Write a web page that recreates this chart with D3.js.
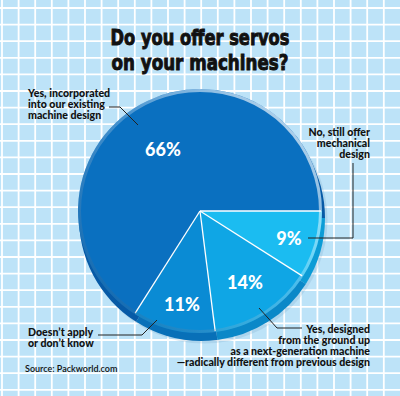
<!DOCTYPE html>
<html>
<head>
<meta charset="utf-8">
<script src="https://cdn.jsdelivr.net/npm/d3@7"></script>
<style>
  html, body { margin: 0; padding: 0; background: #bde3f8; }
  svg { display: block; }
  .lbl { font-family: Lato, "Noto Sans", sans-serif; font-weight: 900; font-size: 10.6px; fill: #111; }
  .pct { font-family: Lato, "Noto Sans", sans-serif; font-weight: 900; font-size: 18px; fill: #fff; }
</style>
</head>
<body>
<svg id="chart" width="400" height="396"></svg>
<script>
// survey answers, in clockwise order starting at 3 o'clock
var answers = ["No, still offer mechanical design",
               "Yes, designed from the ground up",
               "Doesn't apply or don't know",
               "Yes, incorporated into our existing machine design"];
var shares = [9, 14, 11, 66];
var faceColors = ["#1bbcf1", "#0fa6e5", "#0a8bd4", "#0a70c0"];
var rimColors  = ["#0c9cd6", "#0a88c8", "#0870b8", "#075aa6"];

var titleLines = ["Do you offer servos", "on your machines?"];
var labelLines = [
  ["No, still offer", "mechanical", "design"],
  ["Yes, designed", "from the ground up", "as a next-generation machine", "\u2014radically different from previous design"],
  ["Doesn\u2019t apply", "or don\u2019t know"],
  ["Yes, incorporated", "into our existing", "machine design"]
];
var sourceText = "Source: Packworld.com";

var W = 400, H = 396;
var cx = 200, cy = 211, R = 122;
var svg = d3.select('#chart');

// grid background
var gridStep = 16.6;
var gx = svg.append('g').attr('class', 'grid');
gx.selectAll('line.v').data(d3.range(2, W, gridStep)).enter().append('line')
  .attr('x1', function (d) { return d; }).attr('x2', function (d) { return d; })
  .attr('y1', 0).attr('y2', H)
  .attr('stroke', '#fff').attr('stroke-width', 1.8);
gx.selectAll('line.h').data(d3.range(8, H, gridStep)).enter().append('line')
  .attr('y1', function (d) { return d; }).attr('y2', function (d) { return d; })
  .attr('x1', 0).attr('x2', W)
  .attr('stroke', '#fff').attr('stroke-width', 1.8);

// title
svg.append('g').selectAll('text').data(titleLines).enter().append('text')
  .attr('x', 200).attr('y', function (d, i) { return 45 + i * 25; })
  .attr('text-anchor', 'middle')
  .attr('textLength', function (d, i) { return i === 0 ? 179 : 177; })
  .attr('lengthAdjust', 'spacingAndGlyphs')
  .style('font-family', '"DejaVu Sans Condensed", "DejaVu Sans", sans-serif')
  .style('font-weight', 'bold').style('font-size', '22px').style('fill', '#111')
  .style('stroke', '#111').style('stroke-width', 0.9)
  .text(function (d) { return d; });

var pie = d3.pie().sort(null).value(function (d) { return d; })
  .startAngle(Math.PI / 2).endAngle(Math.PI / 2 + 2 * Math.PI);
var slices = pie(shares);
var arc = d3.arc().innerRadius(0).outerRadius(R);

var defs = svg.append('defs');
var grad = defs.append('linearGradient').attr('id', 'edgeGrad')
  .attr('x1', '1').attr('y1', '0').attr('x2', '0').attr('y2', '1');
grad.append('stop').attr('offset', '0').attr('stop-color', '#ffffff').attr('stop-opacity', 0.85);
grad.append('stop').attr('offset', '0.45').attr('stop-color', '#ffffff').attr('stop-opacity', 0.25);
grad.append('stop').attr('offset', '1').attr('stop-color', '#003060').attr('stop-opacity', 0.25);

// soft shadow under the disc
svg.append('circle').attr('cx', cx + 4).attr('cy', cy + 9).attr('r', R + 1.5)
  .attr('fill', '#6a9cc0').attr('opacity', 0.2);

// rim of the disc
svg.append('g').attr('transform', 'translate(' + (cx + 2) + ',' + (cy + 7) + ')')
  .selectAll('path').data(slices).enter().append('path')
  .attr('d', d3.arc().innerRadius(0).outerRadius(R + 1))
  .attr('fill', function (d, i) { return rimColors[i]; });

// face of the disc
var face = svg.append('g').attr('transform', 'translate(' + cx + ',' + cy + ')');
face.selectAll('path').data(slices).enter().append('path')
  .attr('d', arc)
  .attr('fill', function (d, i) { return faceColors[i]; });

// white separators
face.selectAll('line').data(slices).enter().append('line')
  .attr('x1', 0).attr('y1', 0)
  .attr('x2', function (d) { return d3.pointRadial(d.startAngle, R - 1)[0]; })
  .attr('y2', function (d) { return d3.pointRadial(d.startAngle, R - 1)[1]; })
  .attr('stroke', '#fff').attr('stroke-width', 1.3);

// bevel edge
face.append('circle').attr('r', R - 1.5).attr('fill', 'none')
  .attr('stroke', 'url(#edgeGrad)').attr('stroke-width', 3);

// percentages
var pctPos = [[289, 245], [245, 289], [182, 311], [163, 156]];
face.selectAll('text').data(slices).enter().append('text')
  .attr('class', 'pct')
  .attr('x', function (d, i) { return pctPos[i][0] - cx; })
  .attr('y', function (d, i) { return pctPos[i][1] - cy; })
  .attr('text-anchor', 'middle')
  .text(function (d) { return d.data + '%'; });

// labels
var labelCfg = [
  { x: 370, y: 136, anchor: 'end', lh: 10.8 },
  { x: 370, y: 333, anchor: 'end', lh: 11 },
  { x: 28, y: 336, anchor: 'start', lh: 10.8 },
  { x: 28, y: 97, anchor: 'start', lh: 11 }
];
var labels = svg.append('g');
labelLines.forEach(function (lines, i) {
  var c = labelCfg[i];
  labels.append('text').attr('class', 'lbl')
    .attr('text-anchor', c.anchor)
    .selectAll('tspan').data(lines).enter().append('tspan')
    .attr('x', c.x).attr('y', function (d, j) { return c.y + j * c.lh; })
    .text(function (d) { return d; });
});

// leader lines
var leaders = [
  [[308, 238], [353, 238], [353, 163]],
  [[259, 308], [277, 328], [302, 328]],
  [[98, 335], [142, 335], [157, 320]],
  [[109, 107], [120, 107], [138, 125]]
];
svg.append('g').selectAll('path').data(leaders).enter().append('path')
  .attr('d', d3.line())
  .attr('fill', 'none').attr('stroke', '#222').attr('stroke-width', 1);

svg.append('text').attr('x', 25).attr('y', 372)
  .style('font-family', 'Lato, "Noto Sans", sans-serif').style('font-size', '9px')
  .style('font-weight', 600).style('fill', '#111')
  .text(sourceText);
</script>
</body>
</html>
